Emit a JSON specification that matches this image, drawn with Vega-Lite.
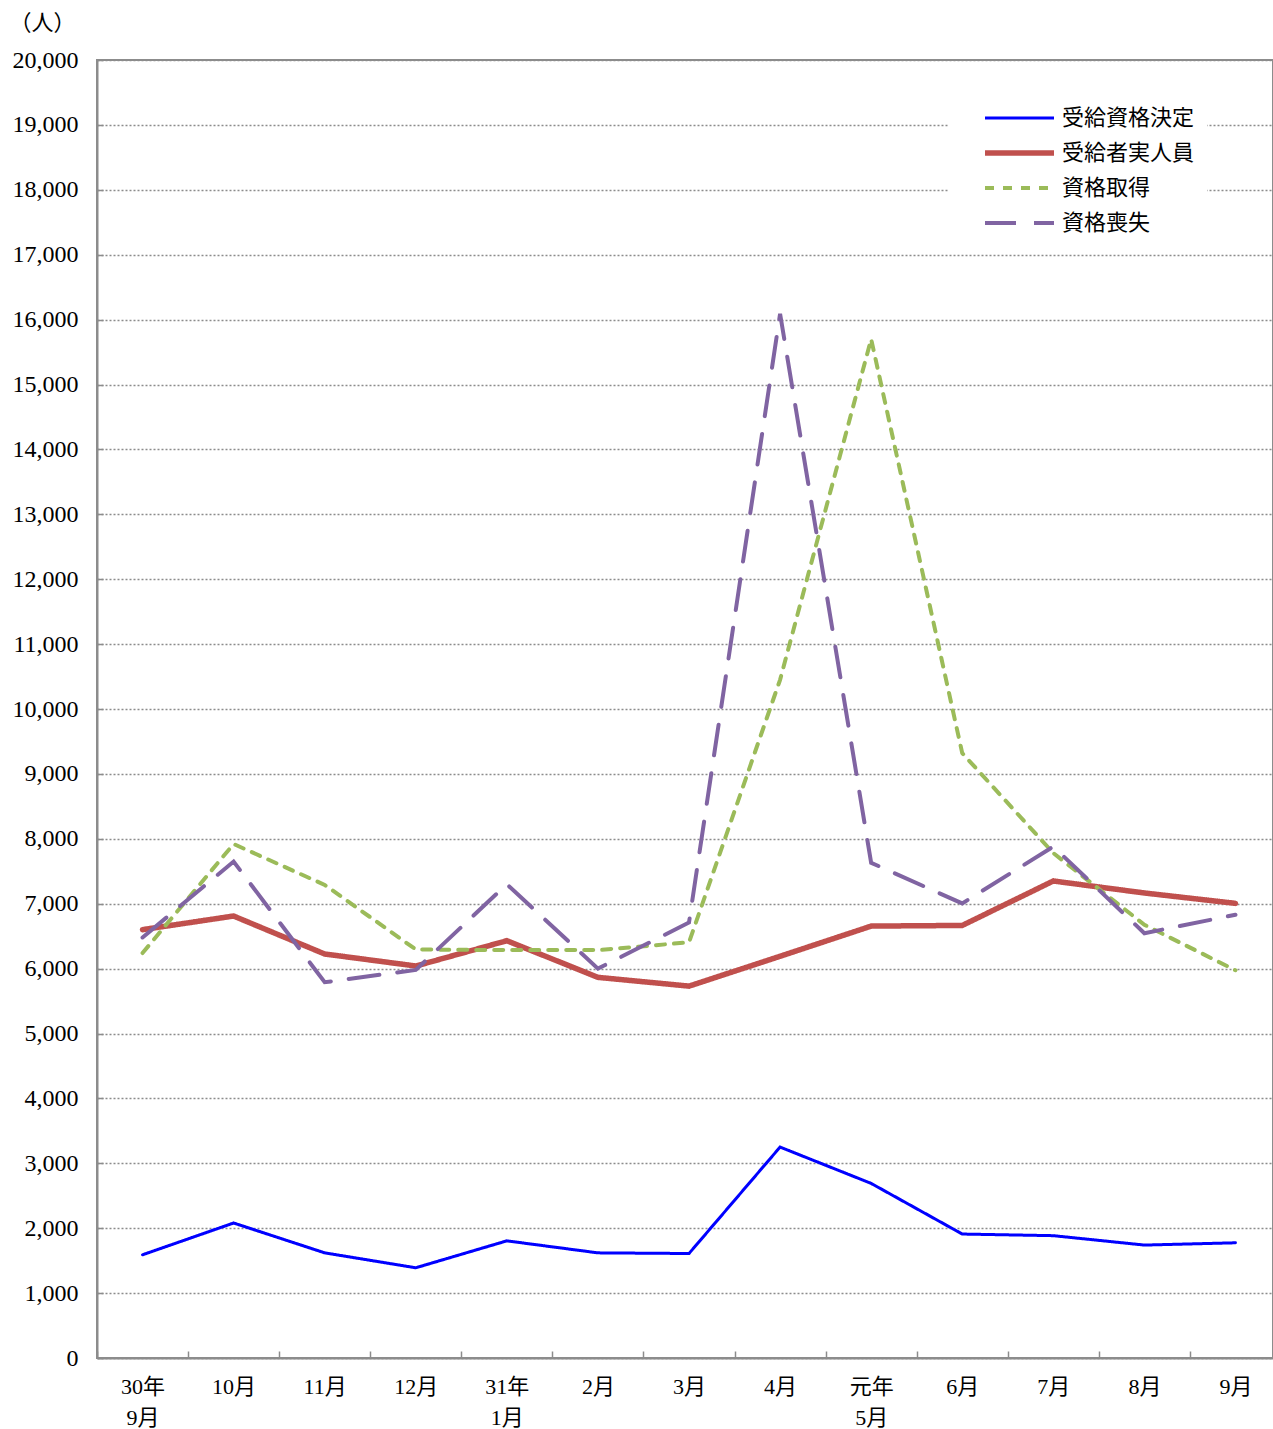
{
  "$schema": "https://vega.github.io/schema/vega-lite/v6.json",
  "width": 1176,
  "height": 1298,
  "autosize": {"type": "none"},
  "padding": {"left": 97, "top": 60, "right": 0, "bottom": 71},
  "background": "white",
  "config": {
    "font": "Liberation Serif, Noto Sans CJK JP",
    "view": {"stroke": "#8c8c8c", "strokeWidth": 2}
  },
  "data": {
    "values": [
      {"m": "30年\n9月", "s": "受給資格決定", "v": 1590},
      {"m": "10月", "s": "受給資格決定", "v": 2080},
      {"m": "11月", "s": "受給資格決定", "v": 1620},
      {"m": "12月", "s": "受給資格決定", "v": 1390},
      {"m": "31年\n1月", "s": "受給資格決定", "v": 1805},
      {"m": "2月", "s": "受給資格決定", "v": 1620},
      {"m": "3月", "s": "受給資格決定", "v": 1610},
      {"m": "4月", "s": "受給資格決定", "v": 3250},
      {"m": "元年\n5月", "s": "受給資格決定", "v": 2690},
      {"m": "6月", "s": "受給資格決定", "v": 1910},
      {"m": "7月", "s": "受給資格決定", "v": 1885},
      {"m": "8月", "s": "受給資格決定", "v": 1740},
      {"m": "9月", "s": "受給資格決定", "v": 1775},
      {"m": "30年\n9月", "s": "受給者実人員", "v": 6600},
      {"m": "10月", "s": "受給者実人員", "v": 6810},
      {"m": "11月", "s": "受給者実人員", "v": 6225},
      {"m": "12月", "s": "受給者実人員", "v": 6040},
      {"m": "31年\n1月", "s": "受給者実人員", "v": 6430},
      {"m": "2月", "s": "受給者実人員", "v": 5865},
      {"m": "3月", "s": "受給者実人員", "v": 5730},
      {"m": "4月", "s": "受給者実人員", "v": 6190},
      {"m": "元年\n5月", "s": "受給者実人員", "v": 6655},
      {"m": "6月", "s": "受給者実人員", "v": 6665},
      {"m": "7月", "s": "受給者実人員", "v": 7350},
      {"m": "8月", "s": "受給者実人員", "v": 7165},
      {"m": "9月", "s": "受給者実人員", "v": 7005},
      {"m": "30年\n9月", "s": "資格取得", "v": 6240},
      {"m": "10月", "s": "資格取得", "v": 7920},
      {"m": "11月", "s": "資格取得", "v": 7290},
      {"m": "12月", "s": "資格取得", "v": 6295},
      {"m": "31年\n1月", "s": "資格取得", "v": 6285},
      {"m": "2月", "s": "資格取得", "v": 6285},
      {"m": "3月", "s": "資格取得", "v": 6405},
      {"m": "4月", "s": "資格取得", "v": 10450},
      {"m": "元年\n5月", "s": "資格取得", "v": 15700},
      {"m": "6月", "s": "資格取得", "v": 9320},
      {"m": "7月", "s": "資格取得", "v": 7780},
      {"m": "8月", "s": "資格取得", "v": 6675},
      {"m": "9月", "s": "資格取得", "v": 5975},
      {"m": "30年\n9月", "s": "資格喪失", "v": 6480},
      {"m": "10月", "s": "資格喪失", "v": 7650},
      {"m": "11月", "s": "資格喪失", "v": 5790},
      {"m": "12月", "s": "資格喪失", "v": 5980},
      {"m": "31年\n1月", "s": "資格喪失", "v": 7300},
      {"m": "2月", "s": "資格喪失", "v": 6000},
      {"m": "3月", "s": "資格喪失", "v": 6710},
      {"m": "4月", "s": "資格喪失", "v": 16090},
      {"m": "元年\n5月", "s": "資格喪失", "v": 7630},
      {"m": "6月", "s": "資格喪失", "v": 7005},
      {"m": "7月", "s": "資格喪失", "v": 7880},
      {"m": "8月", "s": "資格喪失", "v": 6545},
      {"m": "9月", "s": "資格喪失", "v": 6830}
    ]
  },
  "mark": {"type": "line", "strokeCap": "round", "strokeJoin": "miter"},
  "encoding": {
    "x": {
      "field": "m",
      "type": "nominal",
      "sort": null,
      "scale": {
        "type": "band",
        "domain": ["30年\n9月", "10月", "11月", "12月", "31年\n1月", "2月", "3月", "4月", "元年\n5月", "6月", "7月", "8月", "9月"],
        "range": [0, 1184],
        "paddingInner": 0,
        "paddingOuter": 0
      },
      "axis": {
        "title": null,
        "tickBand": "extent",
        "tickSize": -7,
        "tickColor": "#8c8c8c",
        "tickWidth": 1.5,
        "domainColor": "#8c8c8c",
        "domainWidth": 2,
        "labelAngle": 0,
        "labelFontSize": 22,
        "labelColor": "#000000",
        "labelLineHeight": 31,
        "labelPadding": 25,
        "labelBaseline": "top",
        "labelExpr": "split(datum.label, '\\n')",
        "grid": false
      }
    },
    "y": {
      "field": "v",
      "type": "quantitative",
      "scale": {"domain": [0, 20000], "nice": false},
      "axis": {
        "values": [0, 1000, 2000, 3000, 4000, 5000, 6000, 7000, 8000, 9000, 10000, 11000, 12000, 13000, 14000, 15000, 16000, 17000, 18000, 19000, 20000],
        "format": ",d",
        "grid": true,
        "gridColor": "#8c8c8c",
        "gridDash": [2, 2],
        "gridWidth": 1.5,
        "tickSize": -6,
        "tickColor": "#8c8c8c",
        "tickWidth": 1.5,
        "domainColor": "#8c8c8c",
        "domainWidth": 2,
        "labelFontSize": 24,
        "labelColor": "#000000",
        "labelPadding": 25,
        "title": "（人）",
        "titleAngle": 0,
        "titleX": -55,
        "titleY": -38,
        "titleAlign": "center",
        "titleBaseline": "middle",
        "titleFontSize": 22,
        "titleFontWeight": "normal",
        "titleColor": "#000000"
      }
    },
    "color": {
      "field": "s",
      "type": "nominal",
      "scale": {
        "domain": ["受給資格決定", "受給者実人員", "資格取得", "資格喪失"],
        "range": ["#0000FF", "#C0504D", "#9BBB59", "#8064A2"]
      },
      "legend": {
        "title": null,
        "orient": "none",
        "legendX": 851,
        "legendY": 35,
        "fillColor": "white",
        "padding": 12,
        "symbolOffset": 22,
        "symbolType": "stroke",
        "symbolSize": 4761,
        "clipHeight": 22,
        "labelFontSize": 22,
        "labelColor": "#000000",
        "labelOffset": 5,
        "rowPadding": 13,
        "labelLimit": 300
      }
    },
    "strokeDash": {
      "field": "s",
      "type": "nominal",
      "scale": {
        "domain": ["受給資格決定", "受給者実人員", "資格取得", "資格喪失"],
        "range": [[1, 0], [1, 0], [9, 9], [31, 18]]
      },
      "legend": {
        "title": null,
        "orient": "none",
        "legendX": 851,
        "legendY": 35,
        "fillColor": "white",
        "padding": 12,
        "symbolOffset": 22,
        "symbolType": "stroke",
        "symbolSize": 4761,
        "clipHeight": 22,
        "labelFontSize": 22,
        "labelColor": "#000000",
        "labelOffset": 5,
        "rowPadding": 13,
        "labelLimit": 300
      }
    },
    "strokeWidth": {
      "field": "s",
      "type": "nominal",
      "scale": {
        "type": "ordinal",
        "domain": ["受給資格決定", "受給者実人員", "資格取得", "資格喪失"],
        "range": [3, 5.5, 4, 4]
      },
      "legend": {
        "title": null,
        "orient": "none",
        "legendX": 851,
        "legendY": 35,
        "fillColor": "white",
        "padding": 12,
        "symbolOffset": 22,
        "symbolType": "stroke",
        "symbolSize": 4761,
        "clipHeight": 22,
        "labelFontSize": 22,
        "labelColor": "#000000",
        "labelOffset": 5,
        "rowPadding": 13,
        "labelLimit": 300
      }
    }
  }
}
